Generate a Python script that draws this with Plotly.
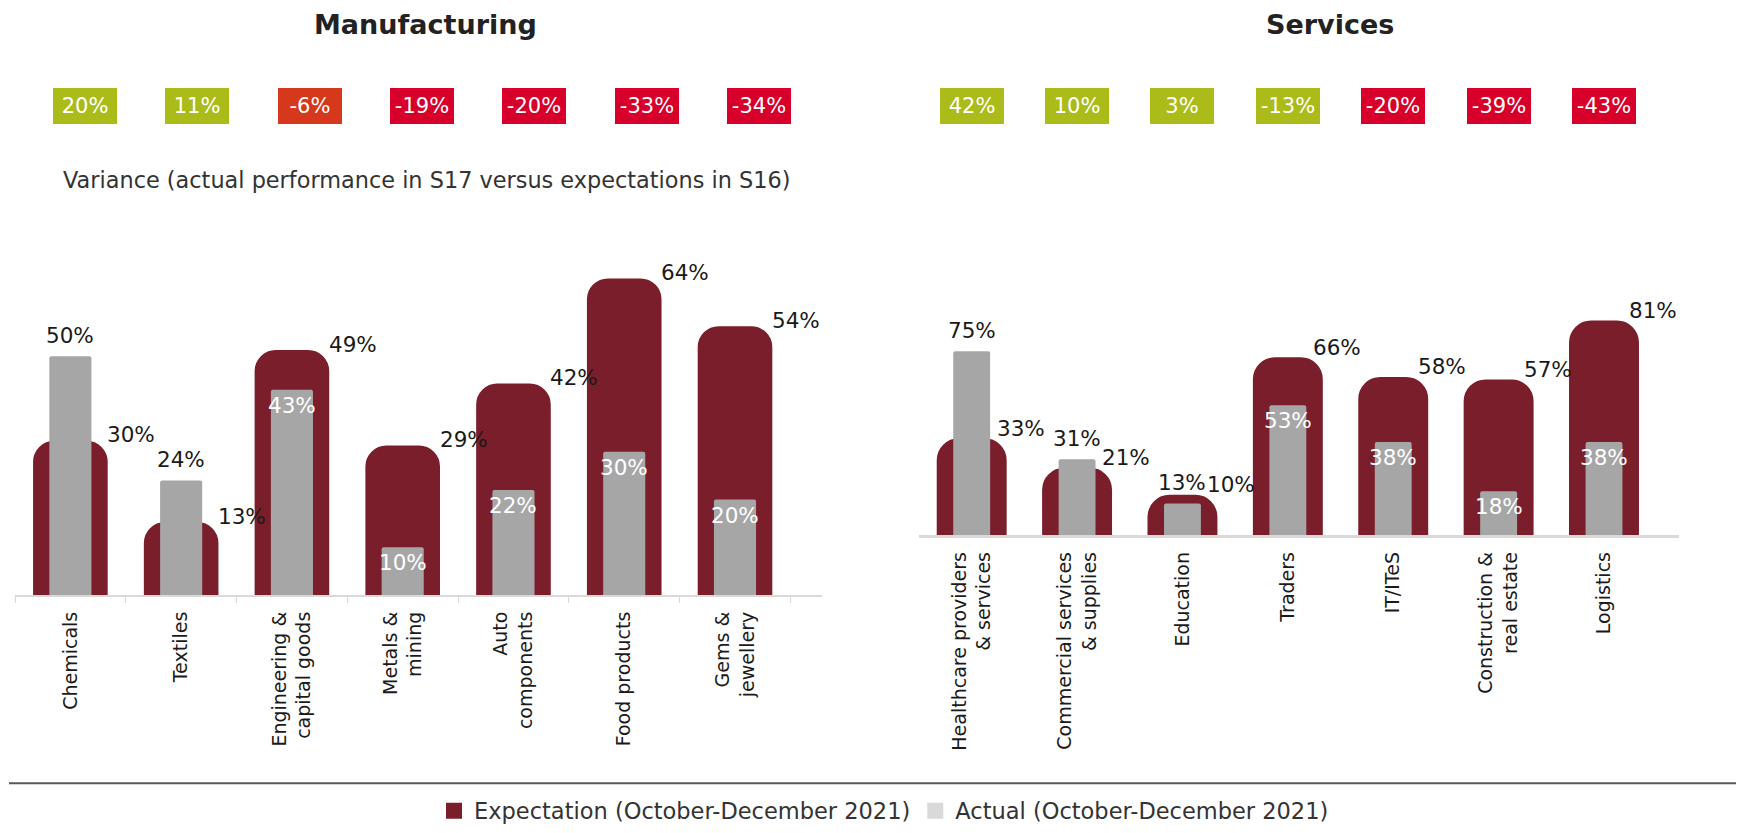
import plotly.graph_objects as go

W, H = 1745, 833

# ---------------- data ----------------
mfg_categories = ["Chemicals", "Textiles", "Engineering &<br>capital goods", "Metals &<br>mining",
                  "Auto<br>components", "Food products", "Gems &<br>jewellery"]
mfg_expectation = [30, 13, 49, 29, 42, 64, 54]
mfg_actual = [50, 24, 43, 10, 22, 30, 20]
mfg_variance = [20, 11, -6, -19, -20, -33, -34]

svc_categories = ["Healthcare providers<br>& services", "Commercial services<br>& supplies", "Education",
                  "Traders", "IT/ITeS", "Construction &<br>real estate", "Logistics"]
svc_expectation = [33, 21, 10, 66, 58, 57, 81]
svc_actual = [75, 31, 13, 53, 38, 18, 38]
svc_variance = [42, 10, 3, -13, -20, -39, -43]

panel_titles = ["Manufacturing", "Services"]
subtitle = "Variance (actual performance in S17 versus expectations in S16)"
legend_names = ["Expectation (October-December 2021)", "Actual (October-December 2021)"]

# ---------------- styles ----------------
MAROON = "#7b1e2b"
GREY = "#a6a6a6"
LIGHT = "#d9d9d9"
GREEN = "#abbb1a"
ORANGE = "#d5381a"
RED = "#d7002b"
mfg_badge_colors = [GREEN, GREEN, ORANGE, RED, RED, RED, RED]
svc_badge_colors = [GREEN, GREEN, GREEN, GREEN, RED, RED, RED]
FONT = "DejaVu Sans"
LABEL_SIZE = 21.5


def px_x(x):
    return x / W


def px_y(y):
    return 1 - y / H


fig = go.Figure()

panels = [
    dict(cats=mfg_categories, exp=mfg_expectation, act=mfg_actual, var=mfg_variance,
         xa="x", ya="y", ya_act="y3", lw=22, ew=0.475, aw=0.38, cr=10,
         exp_xshift=35, exp_yshift=17),
    dict(cats=svc_categories, exp=svc_expectation, act=svc_actual, var=svc_variance,
         xa="x2", ya="y2", ya_act="y4", lw=32, ew=0.36, aw=0.35, cr=6,
         exp_xshift=23, exp_yshift=26),
]

annotations = []
for p in panels:
    fig.add_trace(go.Bar(
        x=p["cats"], y=p["exp"], xaxis=p["xa"], yaxis=p["ya"], width=p["ew"],
        marker=dict(color=MAROON, line=dict(color=MAROON, width=p["lw"]), cornerradius=p["cr"]),
        showlegend=False, name=legend_names[0], hoverinfo="x+y"))
    fig.add_trace(go.Bar(
        x=p["cats"], y=p["act"], xaxis=p["xa"], yaxis=p["ya_act"], width=p["aw"],
        marker=dict(color=GREY, line=dict(width=0), cornerradius=2),
        showlegend=False, name=legend_names[1], hoverinfo="x+y"))
    for c, e, a in zip(p["cats"], p["exp"], p["act"]):
        annotations.append(dict(
            x=c, y=e, xref=p["xa"], yref=p["ya"], text=f"{e}%", showarrow=False,
            xanchor="left", yanchor="middle", xshift=p["exp_xshift"], yshift=p["exp_yshift"],
            font=dict(family=FONT, size=LABEL_SIZE, color="#1a1a1a")))
        if a > e:
            annotations.append(dict(
                x=c, y=a, xref=p["xa"], yref=p["ya"], text=f"{a}%", showarrow=False,
                xanchor="center", yanchor="bottom", yshift=6,
                font=dict(family=FONT, size=LABEL_SIZE, color="#1a1a1a")))
        else:
            annotations.append(dict(
                x=c, y=a, xref=p["xa"], yref=p["ya"], text=f"{a}%", showarrow=False,
                xanchor="center", yanchor="top", yshift=-1,
                font=dict(family=FONT, size=LABEL_SIZE, color="white")))

# variance badges
badge_y = px_y(107)
mfg_badge_dom = [px_x(29), px_x(815)]
n = len(mfg_variance)
for i, (v, col) in enumerate(zip(mfg_variance, mfg_badge_colors)):
    annotations.append(dict(
        x=mfg_badge_dom[0] + (i + 0.5) / n * (mfg_badge_dom[1] - mfg_badge_dom[0]), y=badge_y,
        xref="paper", yref="paper", text=f"{v}%", showarrow=False,
        width=64, height=36, bgcolor=col, borderpad=0, borderwidth=0,
        xanchor="center", yanchor="middle",
        font=dict(family=FONT, size=21, color="white")))
for c, v, col in zip(svc_categories, svc_variance, svc_badge_colors):
    annotations.append(dict(
        x=c, y=badge_y, xref="x2", yref="paper", text=f"{v}%", showarrow=False,
        width=64, height=36, bgcolor=col, borderpad=0, borderwidth=0,
        xanchor="center", yanchor="middle",
        font=dict(family=FONT, size=21, color="white")))

# titles and subtitle
for t, xc in zip(panel_titles, [425, 1330]):
    annotations.append(dict(
        x=px_x(xc), y=px_y(25), xref="paper", yref="paper", text=f"<b>{t}</b>", showarrow=False,
        xanchor="center", yanchor="middle",
        font=dict(family=FONT, size=27, color="#222222")))
annotations.append(dict(
    x=px_x(61), y=px_y(181), xref="paper", yref="paper", text=subtitle, showarrow=False,
    xanchor="left", yanchor="middle", font=dict(family=FONT, size=22.4, color="#333333")))

# legend entries
fig.add_trace(go.Scatter(x=[None], y=[None], mode="markers", name=legend_names[0],
                         marker=dict(symbol="square", size=20, color=MAROON)))
fig.add_trace(go.Scatter(x=[None], y=[None], mode="markers", name=legend_names[1],
                         marker=dict(symbol="square", size=20, color=LIGHT)))

tick_font = dict(family=FONT, size=19, color="#1a1a1a")
mfg_ydom = [px_y(598), px_y(250)]
svc_ydom = [px_y(538), px_y(250)]
mfg_range = [0, 72.5]
svc_range = [0, 116.7]
fig.update_layout(
    width=W, height=H,
    margin=dict(l=0, r=0, t=0, b=0),
    paper_bgcolor="white", plot_bgcolor="white",
    barmode="overlay",
    xaxis=dict(domain=[px_x(15), px_x(822)], anchor="y", type="category",
               categoryorder="array", categoryarray=mfg_categories,
               showline=True, linecolor=LIGHT, linewidth=2,
               ticks="outside", tickson="boundaries", ticklen=6, tickcolor=LIGHT, tickwidth=1,
               tickangle=-90, tickfont=tick_font, ticklabelstandoff=7, showgrid=False),
    yaxis=dict(domain=mfg_ydom, anchor="x", range=mfg_range,
               visible=False, showgrid=False, zeroline=False),
    yaxis3=dict(domain=mfg_ydom, anchor="x", overlaying="y", range=mfg_range,
                visible=False, showgrid=False, zeroline=False),
    xaxis2=dict(domain=[px_x(919), px_x(1679)], anchor="y2", type="category",
                categoryorder="array", categoryarray=svc_categories,
                showline=True, linecolor=LIGHT, linewidth=3, ticks="",
                tickangle=-90, tickfont=tick_font, ticklabelstandoff=6, showgrid=False),
    yaxis2=dict(domain=svc_ydom, anchor="x2", range=svc_range,
                visible=False, showgrid=False, zeroline=False),
    yaxis4=dict(domain=svc_ydom, anchor="x2", overlaying="y2", range=svc_range,
                visible=False, showgrid=False, zeroline=False),
    showlegend=True,
    legend=dict(orientation="h", x=px_x(884), xanchor="center", y=px_y(815), yanchor="middle",
                font=dict(family=FONT, size=22.5, color="#333333"), bgcolor="rgba(0,0,0,0)"),
    annotations=annotations,
    shapes=[dict(type="line", xref="paper", yref="paper", x0=px_x(9), x1=px_x(1736),
                 y0=px_y(787), y1=px_y(787), line=dict(color="#595959", width=2))],
)

fig.write_html("out.html", config={"displayModeBar": False},
               post_script="document.body.style.margin='0';document.body.style.overflow='hidden';")
